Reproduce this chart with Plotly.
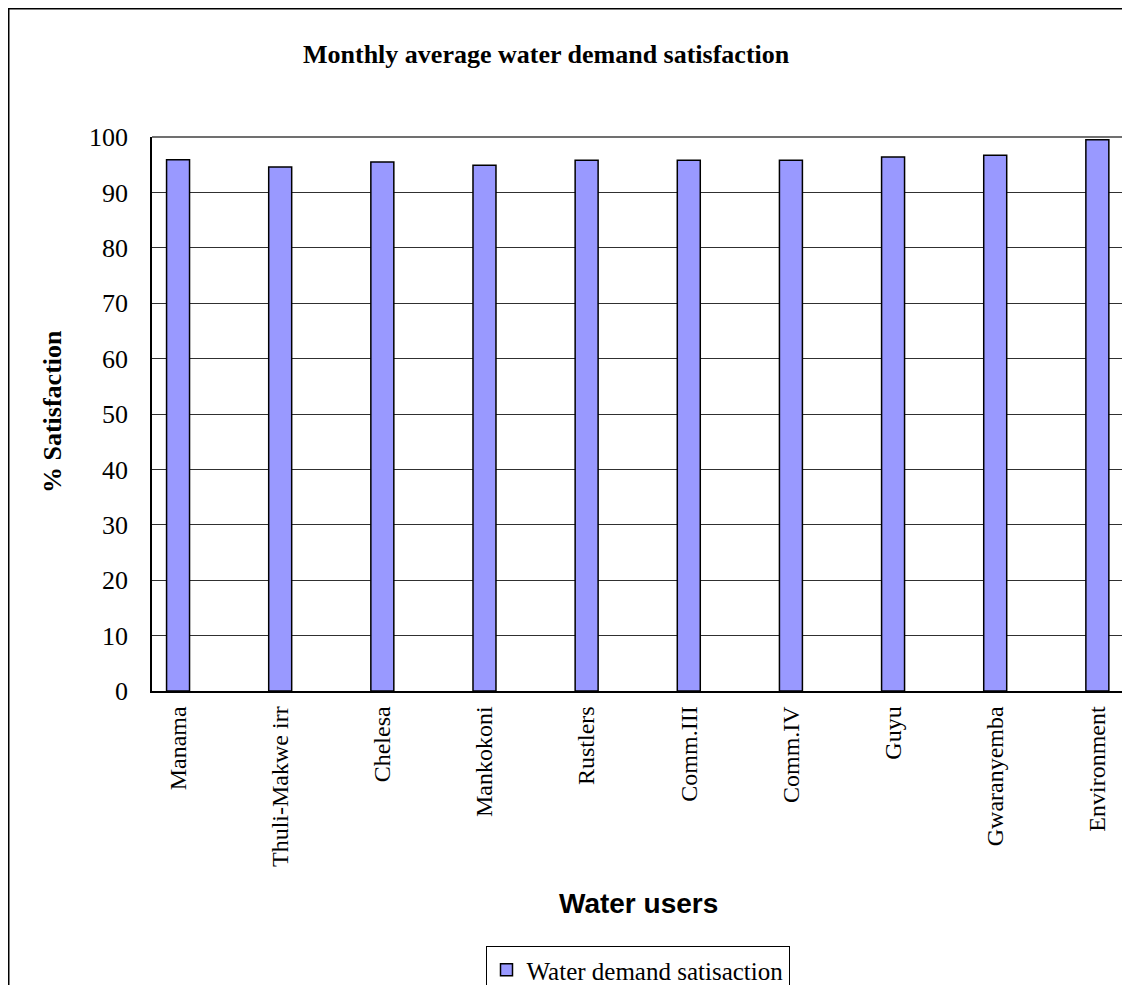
import plotly.graph_objects as go

categories = ["Manama", "Thuli-Makwe irr", "Chelesa", "Mankokoni", "Rustlers",
              "Comm.III", "Comm.IV", "Guyu", "Gwaranyemba", "Environment"]
satisfaction = [95.9, 94.6, 95.5, 94.9, 95.8, 95.8, 95.8, 96.4, 96.7, 99.5]
y_ticks = [0, 10, 20, 30, 40, 50, 60, 70, 80, 90, 100]
series_name = "Water demand satisaction"

O = 8  # browser body margin
W, H = 1130 - O, 993 - 2 * O
# target plot area in screen pixels
L, R, T, B = 152, 1123, 137, 691
pw, ph = R - L, B - T


def px(xs):
    return (xs - L) / pw


def py(ys):
    return (B - ys) / ph


fig = go.Figure()
fig.add_trace(go.Bar(
    x=categories, y=satisfaction, name=series_name,
    width=0.225,
    marker=dict(color="#9999FF", line=dict(color="black", width=1.5)),
    showlegend=True,
))

serif = "Liberation Serif, Times New Roman, serif"
fig.update_layout(
    width=W, height=H,
    margin=dict(l=L - O, r=W - (R - O), t=T - O, b=H - (B - O), autoexpand=False),
    paper_bgcolor="white", plot_bgcolor="white",
    font=dict(family=serif, color="black", size=22),
    showlegend=True,
    legend=dict(
        x=0.5, xanchor="center", y=py(946), yanchor="top",
        orientation="h", bordercolor="black", borderwidth=1,
        font=dict(family=serif, size=25, color="black"),
        itemwidth=30,
    ),
    xaxis=dict(
        type="category", range=[-0.255, 9.251],
        showline=True, linecolor="black", linewidth=1.5,
        showgrid=False, ticks="", tickangle=-90,
        tickfont=dict(family=serif, size=24, color="black"),
        ticklabelstandoff=4,
    ),
    yaxis=dict(
        range=[0, 100], tickvals=y_ticks,
        showline=True, linecolor="black", linewidth=1.5,
        showgrid=True, gridcolor="#303030", gridwidth=1,
        ticks="", zeroline=False,
        tickfont=dict(family=serif, size=26, color="black"),
        ticklabelstandoff=17,
    ),
    annotations=[
        dict(text="<b>Monthly average water demand satisfaction</b>",
             xref="paper", yref="paper", x=px(546), y=py(55),
             xanchor="center", yanchor="middle", showarrow=False,
             font=dict(family=serif, size=26, color="black")),
        dict(text="<b>% Satisfaction</b>", textangle=-90,
             xref="paper", yref="paper", x=px(52), y=py(412),
             xanchor="center", yanchor="middle", showarrow=False,
             font=dict(family=serif, size=26, color="black")),
        dict(text="<b>Water users</b>",
             xref="paper", yref="paper", x=px(638), y=py(903),
             xanchor="center", yanchor="middle", showarrow=False,
             font=dict(family="Liberation Sans, Arial, sans-serif", size=28, color="black")),
    ],
    shapes=[
        dict(type="rect", xref="paper", yref="paper",
             x0=px(8), x1=px(1200), y0=py(1100), y1=py(8),
             line=dict(color="black", width=3), layer="below"),
        dict(type="line", xref="paper", yref="paper", x0=0, x1=1, y0=1, y1=1,
             line=dict(color="#404040", width=1.5)),
        dict(type="line", xref="paper", yref="paper", x0=1, x1=1, y0=0, y1=1,
             line=dict(color="#808080", width=2)),
    ],
)

fig.write_html("out.html")
